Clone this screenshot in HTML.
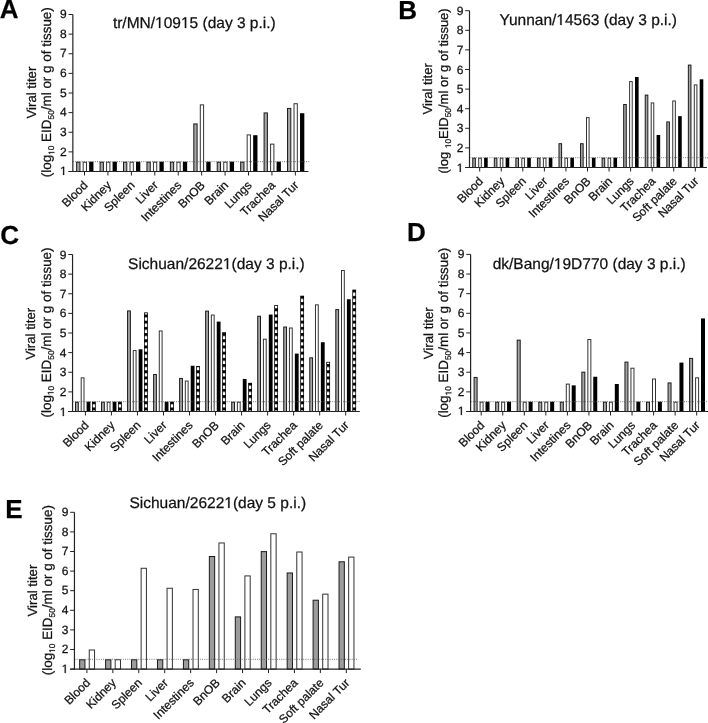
<!DOCTYPE html>
<html><head><meta charset="utf-8"><style>
html,body{margin:0;padding:0;background:#fff;}
svg{display:block;filter:grayscale(1);}
text{font-family:"Liberation Sans", sans-serif;text-rendering:geometricPrecision;stroke:#111;stroke-width:0.25px;}
.h{fill:none;stroke:none;}
</style></head><body>
<svg width="708" height="723" viewBox="0 0 708 723">
<rect width="708" height="723" fill="#fff"/>
<defs><pattern id="chk" patternUnits="userSpaceOnUse" width="8" height="6.2"><rect width="8" height="6.2" fill="#000"/><rect x="0" y="1.2" width="8" height="3.3" fill="#fff"/></pattern></defs>
<text x="-0.3" y="18.3" font-size="26" font-weight="bold" fill="#000">A</text>
<text x="194.3" y="28.0" font-size="15.5" text-anchor="middle" fill="#111">tr/MN/<tspan class="h">1</tspan>09<tspan class="h">1</tspan>5 (day 3 p.i.)</text>
<text transform="translate(36.2,92.6) rotate(-90)" font-size="13.2" text-anchor="middle" fill="#111">Viral titer</text>
<text transform="translate(51.4,92.25) rotate(-90)" font-size="13.45" text-anchor="middle" fill="#111">(log<tspan font-size="8.3" dy="3"><tspan class="h">1</tspan>0</tspan><tspan dy="-3"> EID</tspan><tspan font-size="8.3" dy="3">50</tspan><tspan dy="-3">/ml or g of tissue)</tspan></text>
<rect x="76.65" y="162.19" width="3.30" height="9.31" fill="#a6a6a6" stroke="#1a1a1a" stroke-width="1"/>
<rect x="83.15" y="162.19" width="3.30" height="9.31" fill="#fff" stroke="#333" stroke-width="1"/>
<rect x="89.15" y="161.69" width="4.30" height="9.81" fill="#000"/>
<line x1="84.50" y1="171.5" x2="84.50" y2="175.5" stroke="#222" stroke-width="1"/>
<text transform="translate(88.50,186.00) rotate(-45)" font-size="12" text-anchor="end" fill="#111">Blood</text>
<rect x="100.08" y="162.19" width="3.30" height="9.31" fill="#a6a6a6" stroke="#1a1a1a" stroke-width="1"/>
<rect x="106.58" y="162.19" width="3.30" height="9.31" fill="#fff" stroke="#333" stroke-width="1"/>
<rect x="112.58" y="161.69" width="4.30" height="9.81" fill="#000"/>
<line x1="107.93" y1="171.5" x2="107.93" y2="175.5" stroke="#222" stroke-width="1"/>
<text transform="translate(111.93,186.00) rotate(-45)" font-size="12" text-anchor="end" fill="#111">Kidney</text>
<rect x="123.51" y="162.19" width="3.30" height="9.31" fill="#a6a6a6" stroke="#1a1a1a" stroke-width="1"/>
<rect x="130.01" y="162.19" width="3.30" height="9.31" fill="#fff" stroke="#333" stroke-width="1"/>
<rect x="136.01" y="161.69" width="4.30" height="9.81" fill="#000"/>
<line x1="131.36" y1="171.5" x2="131.36" y2="175.5" stroke="#222" stroke-width="1"/>
<text transform="translate(135.36,186.00) rotate(-45)" font-size="12" text-anchor="end" fill="#111">Spleen</text>
<rect x="146.94" y="162.19" width="3.30" height="9.31" fill="#a6a6a6" stroke="#1a1a1a" stroke-width="1"/>
<rect x="153.44" y="162.19" width="3.30" height="9.31" fill="#fff" stroke="#333" stroke-width="1"/>
<rect x="159.44" y="161.69" width="4.30" height="9.81" fill="#000"/>
<line x1="154.79" y1="171.5" x2="154.79" y2="175.5" stroke="#222" stroke-width="1"/>
<text transform="translate(158.79,186.00) rotate(-45)" font-size="12" text-anchor="end" fill="#111">Liver</text>
<rect x="170.37" y="162.19" width="3.30" height="9.31" fill="#a6a6a6" stroke="#1a1a1a" stroke-width="1"/>
<rect x="176.87" y="162.19" width="3.30" height="9.31" fill="#fff" stroke="#333" stroke-width="1"/>
<rect x="182.87" y="161.69" width="4.30" height="9.81" fill="#000"/>
<line x1="178.22" y1="171.5" x2="178.22" y2="175.5" stroke="#222" stroke-width="1"/>
<text transform="translate(182.22,186.00) rotate(-45)" font-size="12" text-anchor="end" fill="#111">Intestines</text>
<rect x="193.80" y="123.92" width="3.30" height="47.58" fill="#a6a6a6" stroke="#1a1a1a" stroke-width="1"/>
<rect x="200.30" y="104.88" width="3.30" height="66.62" fill="#fff" stroke="#333" stroke-width="1"/>
<rect x="206.30" y="161.69" width="4.30" height="9.81" fill="#000"/>
<line x1="201.65" y1="171.5" x2="201.65" y2="175.5" stroke="#222" stroke-width="1"/>
<text transform="translate(205.65,186.00) rotate(-45)" font-size="12" text-anchor="end" fill="#111">BnOB</text>
<rect x="217.23" y="162.19" width="3.30" height="9.31" fill="#a6a6a6" stroke="#1a1a1a" stroke-width="1"/>
<rect x="223.73" y="162.19" width="3.30" height="9.31" fill="#fff" stroke="#333" stroke-width="1"/>
<rect x="229.73" y="161.69" width="4.30" height="9.81" fill="#000"/>
<line x1="225.08" y1="171.5" x2="225.08" y2="175.5" stroke="#222" stroke-width="1"/>
<text transform="translate(229.08,186.00) rotate(-45)" font-size="12" text-anchor="end" fill="#111">Brain</text>
<rect x="240.66" y="162.19" width="3.30" height="9.31" fill="#a6a6a6" stroke="#1a1a1a" stroke-width="1"/>
<rect x="247.16" y="134.91" width="3.30" height="36.59" fill="#fff" stroke="#333" stroke-width="1"/>
<rect x="253.16" y="135.19" width="4.30" height="36.31" fill="#000"/>
<line x1="248.51" y1="171.5" x2="248.51" y2="175.5" stroke="#222" stroke-width="1"/>
<text transform="translate(252.51,186.00) rotate(-45)" font-size="12" text-anchor="end" fill="#111">Lungs</text>
<rect x="264.09" y="112.93" width="3.30" height="58.57" fill="#a6a6a6" stroke="#1a1a1a" stroke-width="1"/>
<rect x="270.59" y="144.13" width="3.30" height="27.37" fill="#fff" stroke="#333" stroke-width="1"/>
<rect x="276.59" y="161.69" width="4.30" height="9.81" fill="#000"/>
<line x1="271.94" y1="171.5" x2="271.94" y2="175.5" stroke="#222" stroke-width="1"/>
<text transform="translate(275.94,186.00) rotate(-45)" font-size="12" text-anchor="end" fill="#111">Trachea</text>
<rect x="287.52" y="108.41" width="3.30" height="63.09" fill="#a6a6a6" stroke="#1a1a1a" stroke-width="1"/>
<rect x="294.02" y="103.70" width="3.30" height="67.80" fill="#fff" stroke="#333" stroke-width="1"/>
<rect x="300.02" y="113.21" width="4.30" height="58.29" fill="#000"/>
<line x1="295.37" y1="171.5" x2="295.37" y2="175.5" stroke="#222" stroke-width="1"/>
<text transform="translate(299.37,186.00) rotate(-45)" font-size="12" text-anchor="end" fill="#111">Nasal Tur</text>
<line x1="72.85" y1="161.69" x2="309.8" y2="161.69" stroke="#555" stroke-width="0.8" stroke-dasharray="1,1.2"/>
<line x1="72.85" y1="14.5" x2="72.85" y2="172.0" stroke="#222" stroke-width="1.2"/>
<line x1="68.55" y1="171.5" x2="308.4" y2="171.5" stroke="#222" stroke-width="1.1"/>
<line x1="68.55" y1="171.50" x2="72.85" y2="171.50" stroke="#222" stroke-width="1"/>
<text x="66.75" y="175.20" font-size="12" text-anchor="end" fill="#111"><tspan class="h">1</tspan></text>
<line x1="68.55" y1="151.88" x2="72.85" y2="151.88" stroke="#222" stroke-width="1"/>
<text x="66.75" y="155.57" font-size="12" text-anchor="end" fill="#111">2</text>
<line x1="68.55" y1="132.25" x2="72.85" y2="132.25" stroke="#222" stroke-width="1"/>
<text x="66.75" y="135.95" font-size="12" text-anchor="end" fill="#111">3</text>
<line x1="68.55" y1="112.62" x2="72.85" y2="112.62" stroke="#222" stroke-width="1"/>
<text x="66.75" y="116.33" font-size="12" text-anchor="end" fill="#111">4</text>
<line x1="68.55" y1="93.00" x2="72.85" y2="93.00" stroke="#222" stroke-width="1"/>
<text x="66.75" y="96.70" font-size="12" text-anchor="end" fill="#111">5</text>
<line x1="68.55" y1="73.38" x2="72.85" y2="73.38" stroke="#222" stroke-width="1"/>
<text x="66.75" y="77.08" font-size="12" text-anchor="end" fill="#111">6</text>
<line x1="68.55" y1="53.75" x2="72.85" y2="53.75" stroke="#222" stroke-width="1"/>
<text x="66.75" y="57.45" font-size="12" text-anchor="end" fill="#111">7</text>
<line x1="68.55" y1="34.12" x2="72.85" y2="34.12" stroke="#222" stroke-width="1"/>
<text x="66.75" y="37.83" font-size="12" text-anchor="end" fill="#111">8</text>
<line x1="68.55" y1="14.50" x2="72.85" y2="14.50" stroke="#222" stroke-width="1"/>
<text x="66.75" y="18.20" font-size="12" text-anchor="end" fill="#111">9</text>
<text x="398.2" y="19.4" font-size="26" font-weight="bold" fill="#000">B</text>
<text x="588.2" y="25.3" font-size="15.5" text-anchor="middle" fill="#111">Yunnan/<tspan class="h">1</tspan>4563 (day 3 p.i.)</text>
<text transform="translate(432.2,88.85) rotate(-90)" font-size="13.05" text-anchor="middle" fill="#111">Viral titer</text>
<text transform="translate(448.0,90.9) rotate(-90)" font-size="13.0" text-anchor="middle" fill="#111">(log <tspan font-size="8.3" dy="3"><tspan class="h">1</tspan>0</tspan><tspan dy="-3">EID</tspan><tspan font-size="8.3" dy="3">50</tspan><tspan dy="-3">/ml or g of tissue)</tspan></text>
<rect x="472.75" y="158.20" width="2.60" height="9.30" fill="#a6a6a6" stroke="#1a1a1a" stroke-width="1"/>
<rect x="478.70" y="158.20" width="2.60" height="9.30" fill="#fff" stroke="#333" stroke-width="1"/>
<rect x="484.10" y="157.70" width="3.60" height="9.80" fill="#000"/>
<line x1="479.70" y1="167.5" x2="479.70" y2="171.5" stroke="#222" stroke-width="1"/>
<text transform="translate(483.70,182.00) rotate(-45)" font-size="12" text-anchor="end" fill="#111">Blood</text>
<rect x="494.31" y="158.20" width="2.60" height="9.30" fill="#a6a6a6" stroke="#1a1a1a" stroke-width="1"/>
<rect x="500.26" y="158.20" width="2.60" height="9.30" fill="#fff" stroke="#333" stroke-width="1"/>
<rect x="505.66" y="157.70" width="3.60" height="9.80" fill="#000"/>
<line x1="501.26" y1="167.5" x2="501.26" y2="171.5" stroke="#222" stroke-width="1"/>
<text transform="translate(505.26,182.00) rotate(-45)" font-size="12" text-anchor="end" fill="#111">Kidney</text>
<rect x="515.87" y="158.20" width="2.60" height="9.30" fill="#a6a6a6" stroke="#1a1a1a" stroke-width="1"/>
<rect x="521.82" y="158.20" width="2.60" height="9.30" fill="#fff" stroke="#333" stroke-width="1"/>
<rect x="527.22" y="157.70" width="3.60" height="9.80" fill="#000"/>
<line x1="522.82" y1="167.5" x2="522.82" y2="171.5" stroke="#222" stroke-width="1"/>
<text transform="translate(526.82,182.00) rotate(-45)" font-size="12" text-anchor="end" fill="#111">Spleen</text>
<rect x="537.43" y="158.20" width="2.60" height="9.30" fill="#a6a6a6" stroke="#1a1a1a" stroke-width="1"/>
<rect x="543.38" y="158.20" width="2.60" height="9.30" fill="#fff" stroke="#333" stroke-width="1"/>
<rect x="548.78" y="157.70" width="3.60" height="9.80" fill="#000"/>
<line x1="544.38" y1="167.5" x2="544.38" y2="171.5" stroke="#222" stroke-width="1"/>
<text transform="translate(548.38,182.00) rotate(-45)" font-size="12" text-anchor="end" fill="#111">Liver</text>
<rect x="558.99" y="143.70" width="2.60" height="23.80" fill="#a6a6a6" stroke="#1a1a1a" stroke-width="1"/>
<rect x="564.94" y="158.20" width="2.60" height="9.30" fill="#fff" stroke="#333" stroke-width="1"/>
<rect x="570.34" y="157.70" width="3.60" height="9.80" fill="#000"/>
<line x1="565.94" y1="167.5" x2="565.94" y2="171.5" stroke="#222" stroke-width="1"/>
<text transform="translate(569.94,182.00) rotate(-45)" font-size="12" text-anchor="end" fill="#111">Intestines</text>
<rect x="580.55" y="143.70" width="2.60" height="23.80" fill="#a6a6a6" stroke="#1a1a1a" stroke-width="1"/>
<rect x="586.50" y="117.63" width="2.60" height="49.87" fill="#fff" stroke="#333" stroke-width="1"/>
<rect x="591.90" y="157.70" width="3.60" height="9.80" fill="#000"/>
<line x1="587.50" y1="167.5" x2="587.50" y2="171.5" stroke="#222" stroke-width="1"/>
<text transform="translate(591.50,182.00) rotate(-45)" font-size="12" text-anchor="end" fill="#111">BnOB</text>
<rect x="602.11" y="158.20" width="2.60" height="9.30" fill="#a6a6a6" stroke="#1a1a1a" stroke-width="1"/>
<rect x="608.06" y="158.20" width="2.60" height="9.30" fill="#fff" stroke="#333" stroke-width="1"/>
<rect x="613.46" y="157.70" width="3.60" height="9.80" fill="#000"/>
<line x1="609.06" y1="167.5" x2="609.06" y2="171.5" stroke="#222" stroke-width="1"/>
<text transform="translate(613.06,182.00) rotate(-45)" font-size="12" text-anchor="end" fill="#111">Brain</text>
<rect x="623.67" y="104.50" width="2.60" height="63.00" fill="#a6a6a6" stroke="#1a1a1a" stroke-width="1"/>
<rect x="629.62" y="81.56" width="2.60" height="85.94" fill="#fff" stroke="#333" stroke-width="1"/>
<rect x="635.02" y="76.95" width="3.60" height="90.55" fill="#000"/>
<line x1="630.62" y1="167.5" x2="630.62" y2="171.5" stroke="#222" stroke-width="1"/>
<text transform="translate(634.62,182.00) rotate(-45)" font-size="12" text-anchor="end" fill="#111">Lungs</text>
<rect x="645.23" y="95.09" width="2.60" height="72.41" fill="#a6a6a6" stroke="#1a1a1a" stroke-width="1"/>
<rect x="651.18" y="102.93" width="2.60" height="64.57" fill="#fff" stroke="#333" stroke-width="1"/>
<rect x="656.58" y="134.96" width="3.60" height="32.54" fill="#000"/>
<line x1="652.18" y1="167.5" x2="652.18" y2="171.5" stroke="#222" stroke-width="1"/>
<text transform="translate(656.18,182.00) rotate(-45)" font-size="12" text-anchor="end" fill="#111">Trachea</text>
<rect x="666.79" y="121.94" width="2.60" height="45.56" fill="#a6a6a6" stroke="#1a1a1a" stroke-width="1"/>
<rect x="672.74" y="100.97" width="2.60" height="66.53" fill="#fff" stroke="#333" stroke-width="1"/>
<rect x="678.14" y="116.15" width="3.60" height="51.35" fill="#000"/>
<line x1="673.74" y1="167.5" x2="673.74" y2="171.5" stroke="#222" stroke-width="1"/>
<text transform="translate(677.74,182.00) rotate(-45)" font-size="12" text-anchor="end" fill="#111">Soft palate</text>
<rect x="688.35" y="65.10" width="2.60" height="102.40" fill="#a6a6a6" stroke="#1a1a1a" stroke-width="1"/>
<rect x="694.30" y="84.90" width="2.60" height="82.60" fill="#fff" stroke="#333" stroke-width="1"/>
<rect x="699.70" y="79.30" width="3.60" height="88.20" fill="#000"/>
<line x1="695.30" y1="167.5" x2="695.30" y2="171.5" stroke="#222" stroke-width="1"/>
<text transform="translate(699.30,182.00) rotate(-45)" font-size="12" text-anchor="end" fill="#111">Nasal Tur</text>
<line x1="469.5" y1="157.70" x2="708" y2="157.70" stroke="#555" stroke-width="0.8" stroke-dasharray="1,1.2"/>
<line x1="469.5" y1="10.7" x2="469.5" y2="168.0" stroke="#222" stroke-width="1.2"/>
<line x1="465.2" y1="167.5" x2="706.9" y2="167.5" stroke="#222" stroke-width="1.1"/>
<line x1="465.2" y1="167.50" x2="469.5" y2="167.50" stroke="#222" stroke-width="1"/>
<text x="463.40" y="171.60" font-size="12" text-anchor="end" fill="#111"><tspan class="h">1</tspan></text>
<line x1="465.2" y1="147.90" x2="469.5" y2="147.90" stroke="#222" stroke-width="1"/>
<text x="463.40" y="152.00" font-size="12" text-anchor="end" fill="#111">2</text>
<line x1="465.2" y1="128.30" x2="469.5" y2="128.30" stroke="#222" stroke-width="1"/>
<text x="463.40" y="132.40" font-size="12" text-anchor="end" fill="#111">3</text>
<line x1="465.2" y1="108.70" x2="469.5" y2="108.70" stroke="#222" stroke-width="1"/>
<text x="463.40" y="112.80" font-size="12" text-anchor="end" fill="#111">4</text>
<line x1="465.2" y1="89.10" x2="469.5" y2="89.10" stroke="#222" stroke-width="1"/>
<text x="463.40" y="93.20" font-size="12" text-anchor="end" fill="#111">5</text>
<line x1="465.2" y1="69.50" x2="469.5" y2="69.50" stroke="#222" stroke-width="1"/>
<text x="463.40" y="73.60" font-size="12" text-anchor="end" fill="#111">6</text>
<line x1="465.2" y1="49.90" x2="469.5" y2="49.90" stroke="#222" stroke-width="1"/>
<text x="463.40" y="54.00" font-size="12" text-anchor="end" fill="#111">7</text>
<line x1="465.2" y1="30.30" x2="469.5" y2="30.30" stroke="#222" stroke-width="1"/>
<text x="463.40" y="34.40" font-size="12" text-anchor="end" fill="#111">8</text>
<line x1="465.2" y1="10.70" x2="469.5" y2="10.70" stroke="#222" stroke-width="1"/>
<text x="463.40" y="14.80" font-size="12" text-anchor="end" fill="#111">9</text>
<text x="0.3" y="243.9" font-size="26" font-weight="bold" fill="#000">C</text>
<text x="216.4" y="268.9" font-size="15.5" text-anchor="middle" fill="#111">Sichuan/2622<tspan class="h">1</tspan>(day 3 p.i.)</text>
<text transform="translate(35.0,333.75) rotate(-90)" font-size="13.2" text-anchor="middle" fill="#111">Viral titer</text>
<text transform="translate(50.5,332.5) rotate(-90)" font-size="13.45" text-anchor="middle" fill="#111">(log<tspan font-size="8.3" dy="3"><tspan class="h">1</tspan>0</tspan><tspan dy="-3"> EID</tspan><tspan font-size="8.3" dy="3">50</tspan><tspan dy="-3">/ml or g of tissue)</tspan></text>
<rect x="75.50" y="402.19" width="2.80" height="9.31" fill="#a6a6a6" stroke="#1a1a1a" stroke-width="1"/>
<rect x="81.20" y="377.85" width="2.80" height="33.65" fill="#fff" stroke="#333" stroke-width="1"/>
<rect x="86.60" y="401.69" width="3.80" height="9.81" fill="#000"/>
<rect x="92.00" y="401.69" width="3.80" height="9.81" fill="#000"/>
<rect x="92.75" y="402.49" width="2.30" height="9.01" fill="url(#chk)"/>
<line x1="85.40" y1="411.5" x2="85.40" y2="415.5" stroke="#222" stroke-width="1"/>
<text transform="translate(89.40,426.00) rotate(-45)" font-size="12" text-anchor="end" fill="#111">Blood</text>
<rect x="101.53" y="402.19" width="2.80" height="9.31" fill="#a6a6a6" stroke="#1a1a1a" stroke-width="1"/>
<rect x="107.23" y="402.19" width="2.80" height="9.31" fill="#fff" stroke="#333" stroke-width="1"/>
<rect x="112.63" y="401.69" width="3.80" height="9.81" fill="#000"/>
<rect x="118.03" y="401.69" width="3.80" height="9.81" fill="#000"/>
<rect x="118.78" y="402.49" width="2.30" height="9.01" fill="url(#chk)"/>
<line x1="111.43" y1="411.5" x2="111.43" y2="415.5" stroke="#222" stroke-width="1"/>
<text transform="translate(115.43,426.00) rotate(-45)" font-size="12" text-anchor="end" fill="#111">Kidney</text>
<rect x="127.56" y="310.93" width="2.80" height="100.57" fill="#a6a6a6" stroke="#1a1a1a" stroke-width="1"/>
<rect x="133.26" y="350.57" width="2.80" height="60.93" fill="#fff" stroke="#333" stroke-width="1"/>
<rect x="138.66" y="349.29" width="3.80" height="62.21" fill="#000"/>
<rect x="144.06" y="312.39" width="3.80" height="99.11" fill="#000"/>
<rect x="144.81" y="313.19" width="2.30" height="98.31" fill="url(#chk)"/>
<line x1="137.46" y1="411.5" x2="137.46" y2="415.5" stroke="#222" stroke-width="1"/>
<text transform="translate(141.46,426.00) rotate(-45)" font-size="12" text-anchor="end" fill="#111">Spleen</text>
<rect x="153.59" y="374.52" width="2.80" height="36.98" fill="#a6a6a6" stroke="#1a1a1a" stroke-width="1"/>
<rect x="159.29" y="330.95" width="2.80" height="80.55" fill="#fff" stroke="#333" stroke-width="1"/>
<rect x="164.69" y="401.69" width="3.80" height="9.81" fill="#000"/>
<rect x="170.09" y="401.69" width="3.80" height="9.81" fill="#000"/>
<rect x="170.84" y="402.49" width="2.30" height="9.01" fill="url(#chk)"/>
<line x1="163.49" y1="411.5" x2="163.49" y2="415.5" stroke="#222" stroke-width="1"/>
<text transform="translate(167.49,426.00) rotate(-45)" font-size="12" text-anchor="end" fill="#111">Liver</text>
<rect x="179.62" y="378.44" width="2.80" height="33.06" fill="#a6a6a6" stroke="#1a1a1a" stroke-width="1"/>
<rect x="185.32" y="380.99" width="2.80" height="30.51" fill="#fff" stroke="#333" stroke-width="1"/>
<rect x="190.72" y="365.77" width="3.80" height="45.73" fill="#000"/>
<rect x="196.12" y="365.97" width="3.80" height="45.53" fill="#000"/>
<rect x="196.87" y="366.77" width="2.30" height="44.73" fill="url(#chk)"/>
<line x1="189.52" y1="411.5" x2="189.52" y2="415.5" stroke="#222" stroke-width="1"/>
<text transform="translate(193.52,426.00) rotate(-45)" font-size="12" text-anchor="end" fill="#111">Intestines</text>
<rect x="205.65" y="311.13" width="2.80" height="100.37" fill="#a6a6a6" stroke="#1a1a1a" stroke-width="1"/>
<rect x="211.35" y="315.05" width="2.80" height="96.45" fill="#fff" stroke="#333" stroke-width="1"/>
<rect x="216.75" y="321.62" width="3.80" height="89.88" fill="#000"/>
<rect x="222.15" y="332.22" width="3.80" height="79.28" fill="#000"/>
<rect x="222.90" y="333.02" width="2.30" height="78.48" fill="url(#chk)"/>
<line x1="215.55" y1="411.5" x2="215.55" y2="415.5" stroke="#222" stroke-width="1"/>
<text transform="translate(219.55,426.00) rotate(-45)" font-size="12" text-anchor="end" fill="#111">BnOB</text>
<rect x="231.68" y="402.19" width="2.80" height="9.31" fill="#a6a6a6" stroke="#1a1a1a" stroke-width="1"/>
<rect x="237.38" y="402.19" width="2.80" height="9.31" fill="#fff" stroke="#333" stroke-width="1"/>
<rect x="242.78" y="378.92" width="3.80" height="32.58" fill="#000"/>
<rect x="248.18" y="382.85" width="3.80" height="28.65" fill="#000"/>
<rect x="248.93" y="383.65" width="2.30" height="27.85" fill="url(#chk)"/>
<line x1="241.58" y1="411.5" x2="241.58" y2="415.5" stroke="#222" stroke-width="1"/>
<text transform="translate(245.58,426.00) rotate(-45)" font-size="12" text-anchor="end" fill="#111">Brain</text>
<rect x="257.71" y="316.23" width="2.80" height="95.27" fill="#a6a6a6" stroke="#1a1a1a" stroke-width="1"/>
<rect x="263.41" y="339.19" width="2.80" height="72.31" fill="#fff" stroke="#333" stroke-width="1"/>
<rect x="268.81" y="314.55" width="3.80" height="96.95" fill="#000"/>
<rect x="274.21" y="305.13" width="3.80" height="106.37" fill="#000"/>
<rect x="274.96" y="305.93" width="2.30" height="105.57" fill="url(#chk)"/>
<line x1="267.61" y1="411.5" x2="267.61" y2="415.5" stroke="#222" stroke-width="1"/>
<text transform="translate(271.61,426.00) rotate(-45)" font-size="12" text-anchor="end" fill="#111">Lungs</text>
<rect x="283.74" y="327.02" width="2.80" height="84.48" fill="#a6a6a6" stroke="#1a1a1a" stroke-width="1"/>
<rect x="289.44" y="328.00" width="2.80" height="83.50" fill="#fff" stroke="#333" stroke-width="1"/>
<rect x="294.84" y="353.61" width="3.80" height="57.89" fill="#000"/>
<rect x="300.24" y="295.71" width="3.80" height="115.79" fill="#000"/>
<rect x="300.99" y="296.51" width="2.30" height="114.99" fill="url(#chk)"/>
<line x1="293.64" y1="411.5" x2="293.64" y2="415.5" stroke="#222" stroke-width="1"/>
<text transform="translate(297.64,426.00) rotate(-45)" font-size="12" text-anchor="end" fill="#111">Trachea</text>
<rect x="309.77" y="357.83" width="2.80" height="53.67" fill="#a6a6a6" stroke="#1a1a1a" stroke-width="1"/>
<rect x="315.47" y="304.85" width="2.80" height="106.65" fill="#fff" stroke="#333" stroke-width="1"/>
<rect x="320.87" y="342.22" width="3.80" height="69.28" fill="#000"/>
<rect x="326.27" y="361.85" width="3.80" height="49.65" fill="#000"/>
<rect x="327.02" y="362.65" width="2.30" height="48.85" fill="url(#chk)"/>
<line x1="319.67" y1="411.5" x2="319.67" y2="415.5" stroke="#222" stroke-width="1"/>
<text transform="translate(323.67,426.00) rotate(-45)" font-size="12" text-anchor="end" fill="#111">Soft palate</text>
<rect x="335.80" y="309.56" width="2.80" height="101.94" fill="#a6a6a6" stroke="#1a1a1a" stroke-width="1"/>
<rect x="341.50" y="270.50" width="2.80" height="141.00" fill="#fff" stroke="#333" stroke-width="1"/>
<rect x="346.90" y="299.25" width="3.80" height="112.25" fill="#000"/>
<rect x="352.30" y="289.63" width="3.80" height="121.87" fill="#000"/>
<rect x="353.05" y="290.43" width="2.30" height="121.07" fill="url(#chk)"/>
<line x1="345.70" y1="411.5" x2="345.70" y2="415.5" stroke="#222" stroke-width="1"/>
<text transform="translate(349.70,426.00) rotate(-45)" font-size="12" text-anchor="end" fill="#111">Nasal Tur</text>
<line x1="72.55" y1="401.69" x2="359.8" y2="401.69" stroke="#555" stroke-width="0.8" stroke-dasharray="1,1.2"/>
<line x1="72.55" y1="254.5" x2="72.55" y2="412.0" stroke="#222" stroke-width="1.2"/>
<line x1="68.25" y1="411.5" x2="359.8" y2="411.5" stroke="#222" stroke-width="1.1"/>
<line x1="68.25" y1="411.50" x2="72.55" y2="411.50" stroke="#222" stroke-width="1"/>
<text x="66.45" y="415.50" font-size="12" text-anchor="end" fill="#111"><tspan class="h">1</tspan></text>
<line x1="68.25" y1="391.88" x2="72.55" y2="391.88" stroke="#222" stroke-width="1"/>
<text x="66.45" y="395.88" font-size="12" text-anchor="end" fill="#111">2</text>
<line x1="68.25" y1="372.25" x2="72.55" y2="372.25" stroke="#222" stroke-width="1"/>
<text x="66.45" y="376.25" font-size="12" text-anchor="end" fill="#111">3</text>
<line x1="68.25" y1="352.62" x2="72.55" y2="352.62" stroke="#222" stroke-width="1"/>
<text x="66.45" y="356.62" font-size="12" text-anchor="end" fill="#111">4</text>
<line x1="68.25" y1="333.00" x2="72.55" y2="333.00" stroke="#222" stroke-width="1"/>
<text x="66.45" y="337.00" font-size="12" text-anchor="end" fill="#111">5</text>
<line x1="68.25" y1="313.38" x2="72.55" y2="313.38" stroke="#222" stroke-width="1"/>
<text x="66.45" y="317.38" font-size="12" text-anchor="end" fill="#111">6</text>
<line x1="68.25" y1="293.75" x2="72.55" y2="293.75" stroke="#222" stroke-width="1"/>
<text x="66.45" y="297.75" font-size="12" text-anchor="end" fill="#111">7</text>
<line x1="68.25" y1="274.12" x2="72.55" y2="274.12" stroke="#222" stroke-width="1"/>
<text x="66.45" y="278.12" font-size="12" text-anchor="end" fill="#111">8</text>
<line x1="68.25" y1="254.50" x2="72.55" y2="254.50" stroke="#222" stroke-width="1"/>
<text x="66.45" y="258.50" font-size="12" text-anchor="end" fill="#111">9</text>
<text x="407.0" y="241.4" font-size="26" font-weight="bold" fill="#000">D</text>
<text x="589.2" y="268.9" font-size="15.5" text-anchor="middle" fill="#111">dk/Bang/<tspan class="h">1</tspan>9D770 (day 3 p.i.)</text>
<text transform="translate(432.9,333.25) rotate(-90)" font-size="13.2" text-anchor="middle" fill="#111">Viral titer</text>
<text transform="translate(448.4,332.8) rotate(-90)" font-size="13.45" text-anchor="middle" fill="#111">(log<tspan font-size="8.3" dy="3"><tspan class="h">1</tspan>0</tspan><tspan dy="-3"> EID</tspan><tspan font-size="8.3" dy="3">50</tspan><tspan dy="-3">/ml or g of tissue)</tspan></text>
<rect x="474.10" y="377.44" width="3.00" height="34.06" fill="#a6a6a6" stroke="#1a1a1a" stroke-width="1"/>
<rect x="480.10" y="402.18" width="3.00" height="9.32" fill="#fff" stroke="#333" stroke-width="1"/>
<rect x="485.50" y="401.68" width="4.00" height="9.82" fill="#000"/>
<line x1="481.20" y1="411.5" x2="481.20" y2="415.5" stroke="#222" stroke-width="1"/>
<text transform="translate(485.20,426.00) rotate(-45)" font-size="12" text-anchor="end" fill="#111">Blood</text>
<rect x="495.65" y="402.18" width="3.00" height="9.32" fill="#a6a6a6" stroke="#1a1a1a" stroke-width="1"/>
<rect x="501.65" y="402.18" width="3.00" height="9.32" fill="#fff" stroke="#333" stroke-width="1"/>
<rect x="507.05" y="401.68" width="4.00" height="9.82" fill="#000"/>
<line x1="502.75" y1="411.5" x2="502.75" y2="415.5" stroke="#222" stroke-width="1"/>
<text transform="translate(506.75,426.00) rotate(-45)" font-size="12" text-anchor="end" fill="#111">Kidney</text>
<rect x="517.20" y="340.13" width="3.00" height="71.37" fill="#a6a6a6" stroke="#1a1a1a" stroke-width="1"/>
<rect x="523.20" y="402.18" width="3.00" height="9.32" fill="#fff" stroke="#333" stroke-width="1"/>
<rect x="528.60" y="401.68" width="4.00" height="9.82" fill="#000"/>
<line x1="524.30" y1="411.5" x2="524.30" y2="415.5" stroke="#222" stroke-width="1"/>
<text transform="translate(528.30,426.00) rotate(-45)" font-size="12" text-anchor="end" fill="#111">Spleen</text>
<rect x="538.75" y="402.18" width="3.00" height="9.32" fill="#a6a6a6" stroke="#1a1a1a" stroke-width="1"/>
<rect x="544.75" y="402.18" width="3.00" height="9.32" fill="#fff" stroke="#333" stroke-width="1"/>
<rect x="550.15" y="401.68" width="4.00" height="9.82" fill="#000"/>
<line x1="545.85" y1="411.5" x2="545.85" y2="415.5" stroke="#222" stroke-width="1"/>
<text transform="translate(549.85,426.00) rotate(-45)" font-size="12" text-anchor="end" fill="#111">Liver</text>
<rect x="560.30" y="402.18" width="3.00" height="9.32" fill="#a6a6a6" stroke="#1a1a1a" stroke-width="1"/>
<rect x="566.30" y="384.11" width="3.00" height="27.39" fill="#fff" stroke="#333" stroke-width="1"/>
<rect x="571.70" y="385.38" width="4.00" height="26.12" fill="#000"/>
<line x1="567.40" y1="411.5" x2="567.40" y2="415.5" stroke="#222" stroke-width="1"/>
<text transform="translate(571.40,426.00) rotate(-45)" font-size="12" text-anchor="end" fill="#111">Intestines</text>
<rect x="581.85" y="372.14" width="3.00" height="39.36" fill="#a6a6a6" stroke="#1a1a1a" stroke-width="1"/>
<rect x="587.85" y="339.54" width="3.00" height="71.96" fill="#fff" stroke="#333" stroke-width="1"/>
<rect x="593.25" y="376.74" width="4.00" height="34.76" fill="#000"/>
<line x1="588.95" y1="411.5" x2="588.95" y2="415.5" stroke="#222" stroke-width="1"/>
<text transform="translate(592.95,426.00) rotate(-45)" font-size="12" text-anchor="end" fill="#111">BnOB</text>
<rect x="603.40" y="402.18" width="3.00" height="9.32" fill="#a6a6a6" stroke="#1a1a1a" stroke-width="1"/>
<rect x="609.40" y="402.18" width="3.00" height="9.32" fill="#fff" stroke="#333" stroke-width="1"/>
<rect x="614.80" y="384.01" width="4.00" height="27.49" fill="#000"/>
<line x1="610.50" y1="411.5" x2="610.50" y2="415.5" stroke="#222" stroke-width="1"/>
<text transform="translate(614.50,426.00) rotate(-45)" font-size="12" text-anchor="end" fill="#111">Brain</text>
<rect x="624.95" y="362.12" width="3.00" height="49.38" fill="#a6a6a6" stroke="#1a1a1a" stroke-width="1"/>
<rect x="630.95" y="368.21" width="3.00" height="43.29" fill="#fff" stroke="#333" stroke-width="1"/>
<rect x="636.35" y="401.68" width="4.00" height="9.82" fill="#000"/>
<line x1="632.05" y1="411.5" x2="632.05" y2="415.5" stroke="#222" stroke-width="1"/>
<text transform="translate(636.05,426.00) rotate(-45)" font-size="12" text-anchor="end" fill="#111">Lungs</text>
<rect x="646.50" y="402.18" width="3.00" height="9.32" fill="#a6a6a6" stroke="#1a1a1a" stroke-width="1"/>
<rect x="652.50" y="379.01" width="3.00" height="32.49" fill="#fff" stroke="#333" stroke-width="1"/>
<rect x="657.90" y="401.68" width="4.00" height="9.82" fill="#000"/>
<line x1="653.60" y1="411.5" x2="653.60" y2="415.5" stroke="#222" stroke-width="1"/>
<text transform="translate(657.60,426.00) rotate(-45)" font-size="12" text-anchor="end" fill="#111">Trachea</text>
<rect x="668.05" y="382.94" width="3.00" height="28.56" fill="#a6a6a6" stroke="#1a1a1a" stroke-width="1"/>
<rect x="674.05" y="402.18" width="3.00" height="9.32" fill="#fff" stroke="#333" stroke-width="1"/>
<rect x="679.45" y="362.60" width="4.00" height="48.90" fill="#000"/>
<line x1="675.15" y1="411.5" x2="675.15" y2="415.5" stroke="#222" stroke-width="1"/>
<text transform="translate(679.15,426.00) rotate(-45)" font-size="12" text-anchor="end" fill="#111">Soft palate</text>
<rect x="689.60" y="358.39" width="3.00" height="53.11" fill="#a6a6a6" stroke="#1a1a1a" stroke-width="1"/>
<rect x="695.60" y="377.83" width="3.00" height="33.67" fill="#fff" stroke="#333" stroke-width="1"/>
<rect x="701.00" y="318.42" width="4.00" height="93.08" fill="#000"/>
<line x1="696.70" y1="411.5" x2="696.70" y2="415.5" stroke="#222" stroke-width="1"/>
<text transform="translate(700.70,426.00) rotate(-45)" font-size="12" text-anchor="end" fill="#111">Nasal Tur</text>
<line x1="470.6" y1="401.68" x2="708" y2="401.68" stroke="#555" stroke-width="0.8" stroke-dasharray="1,1.2"/>
<line x1="470.6" y1="254.4" x2="470.6" y2="412.0" stroke="#222" stroke-width="1.2"/>
<line x1="466.3" y1="411.5" x2="708" y2="411.5" stroke="#222" stroke-width="1.1"/>
<line x1="466.3" y1="411.50" x2="470.6" y2="411.50" stroke="#222" stroke-width="1"/>
<text x="464.50" y="415.20" font-size="12" text-anchor="end" fill="#111"><tspan class="h">1</tspan></text>
<line x1="466.3" y1="391.86" x2="470.6" y2="391.86" stroke="#222" stroke-width="1"/>
<text x="464.50" y="395.56" font-size="12" text-anchor="end" fill="#111">2</text>
<line x1="466.3" y1="372.23" x2="470.6" y2="372.23" stroke="#222" stroke-width="1"/>
<text x="464.50" y="375.93" font-size="12" text-anchor="end" fill="#111">3</text>
<line x1="466.3" y1="352.59" x2="470.6" y2="352.59" stroke="#222" stroke-width="1"/>
<text x="464.50" y="356.29" font-size="12" text-anchor="end" fill="#111">4</text>
<line x1="466.3" y1="332.95" x2="470.6" y2="332.95" stroke="#222" stroke-width="1"/>
<text x="464.50" y="336.65" font-size="12" text-anchor="end" fill="#111">5</text>
<line x1="466.3" y1="313.31" x2="470.6" y2="313.31" stroke="#222" stroke-width="1"/>
<text x="464.50" y="317.01" font-size="12" text-anchor="end" fill="#111">6</text>
<line x1="466.3" y1="293.68" x2="470.6" y2="293.68" stroke="#222" stroke-width="1"/>
<text x="464.50" y="297.38" font-size="12" text-anchor="end" fill="#111">7</text>
<line x1="466.3" y1="274.04" x2="470.6" y2="274.04" stroke="#222" stroke-width="1"/>
<text x="464.50" y="277.74" font-size="12" text-anchor="end" fill="#111">8</text>
<line x1="466.3" y1="254.40" x2="470.6" y2="254.40" stroke="#222" stroke-width="1"/>
<text x="464.50" y="258.10" font-size="12" text-anchor="end" fill="#111">9</text>
<text x="5.2" y="518.1" font-size="26" font-weight="bold" fill="#000">E</text>
<text x="217.8" y="508.4" font-size="15.5" text-anchor="middle" fill="#111">Sichuan/2622<tspan class="h">1</tspan>(day 5 p.i.)</text>
<text transform="translate(37.2,590.6) rotate(-90)" font-size="13.2" text-anchor="middle" fill="#111">Viral titer</text>
<text transform="translate(52.0,590.2) rotate(-90)" font-size="13.45" text-anchor="middle" fill="#111">(log<tspan font-size="8.3" dy="3"><tspan class="h">1</tspan>0</tspan><tspan dy="-3"> EID</tspan><tspan font-size="8.3" dy="3">50</tspan><tspan dy="-3">/ml or g of tissue)</tspan></text>
<rect x="79.65" y="659.80" width="5.30" height="9.30" fill="#9c9c9c" stroke="#1a1a1a" stroke-width="1"/>
<rect x="89.25" y="650.00" width="5.30" height="19.10" fill="#fff" stroke="#333" stroke-width="1"/>
<line x1="86.90" y1="669.1" x2="86.90" y2="673.1" stroke="#222" stroke-width="1"/>
<text transform="translate(90.90,683.60) rotate(-45)" font-size="12" text-anchor="end" fill="#111">Blood</text>
<rect x="105.59" y="659.80" width="5.30" height="9.30" fill="#9c9c9c" stroke="#1a1a1a" stroke-width="1"/>
<rect x="115.19" y="659.80" width="5.30" height="9.30" fill="#fff" stroke="#333" stroke-width="1"/>
<line x1="112.84" y1="669.1" x2="112.84" y2="673.1" stroke="#222" stroke-width="1"/>
<text transform="translate(116.84,683.60) rotate(-45)" font-size="12" text-anchor="end" fill="#111">Kidney</text>
<rect x="131.53" y="659.80" width="5.30" height="9.30" fill="#9c9c9c" stroke="#1a1a1a" stroke-width="1"/>
<rect x="141.13" y="568.27" width="5.30" height="100.83" fill="#fff" stroke="#333" stroke-width="1"/>
<line x1="138.78" y1="669.1" x2="138.78" y2="673.1" stroke="#222" stroke-width="1"/>
<text transform="translate(142.78,683.60) rotate(-45)" font-size="12" text-anchor="end" fill="#111">Spleen</text>
<rect x="157.47" y="659.80" width="5.30" height="9.30" fill="#9c9c9c" stroke="#1a1a1a" stroke-width="1"/>
<rect x="167.07" y="588.26" width="5.30" height="80.84" fill="#fff" stroke="#333" stroke-width="1"/>
<line x1="164.72" y1="669.1" x2="164.72" y2="673.1" stroke="#222" stroke-width="1"/>
<text transform="translate(168.72,683.60) rotate(-45)" font-size="12" text-anchor="end" fill="#111">Liver</text>
<rect x="183.41" y="659.80" width="5.30" height="9.30" fill="#9c9c9c" stroke="#1a1a1a" stroke-width="1"/>
<rect x="193.01" y="589.44" width="5.30" height="79.66" fill="#fff" stroke="#333" stroke-width="1"/>
<line x1="190.66" y1="669.1" x2="190.66" y2="673.1" stroke="#222" stroke-width="1"/>
<text transform="translate(194.66,683.60) rotate(-45)" font-size="12" text-anchor="end" fill="#111">Intestines</text>
<rect x="209.35" y="556.51" width="5.30" height="112.59" fill="#9c9c9c" stroke="#1a1a1a" stroke-width="1"/>
<rect x="218.95" y="542.98" width="5.30" height="126.12" fill="#fff" stroke="#333" stroke-width="1"/>
<line x1="216.60" y1="669.1" x2="216.60" y2="673.1" stroke="#222" stroke-width="1"/>
<text transform="translate(220.60,683.60) rotate(-45)" font-size="12" text-anchor="end" fill="#111">BnOB</text>
<rect x="235.29" y="616.88" width="5.30" height="52.22" fill="#9c9c9c" stroke="#1a1a1a" stroke-width="1"/>
<rect x="244.89" y="575.91" width="5.30" height="93.19" fill="#fff" stroke="#333" stroke-width="1"/>
<line x1="242.54" y1="669.1" x2="242.54" y2="673.1" stroke="#222" stroke-width="1"/>
<text transform="translate(246.54,683.60) rotate(-45)" font-size="12" text-anchor="end" fill="#111">Brain</text>
<rect x="261.23" y="551.61" width="5.30" height="117.49" fill="#9c9c9c" stroke="#1a1a1a" stroke-width="1"/>
<rect x="270.83" y="533.77" width="5.30" height="135.33" fill="#fff" stroke="#333" stroke-width="1"/>
<line x1="268.48" y1="669.1" x2="268.48" y2="673.1" stroke="#222" stroke-width="1"/>
<text transform="translate(272.48,683.60) rotate(-45)" font-size="12" text-anchor="end" fill="#111">Lungs</text>
<rect x="287.17" y="572.97" width="5.30" height="96.13" fill="#9c9c9c" stroke="#1a1a1a" stroke-width="1"/>
<rect x="296.77" y="552.00" width="5.30" height="117.10" fill="#fff" stroke="#333" stroke-width="1"/>
<line x1="294.42" y1="669.1" x2="294.42" y2="673.1" stroke="#222" stroke-width="1"/>
<text transform="translate(298.42,683.60) rotate(-45)" font-size="12" text-anchor="end" fill="#111">Trachea</text>
<rect x="313.11" y="600.22" width="5.30" height="68.88" fill="#9c9c9c" stroke="#1a1a1a" stroke-width="1"/>
<rect x="322.71" y="594.14" width="5.30" height="74.96" fill="#fff" stroke="#333" stroke-width="1"/>
<line x1="320.36" y1="669.1" x2="320.36" y2="673.1" stroke="#222" stroke-width="1"/>
<text transform="translate(324.36,683.60) rotate(-45)" font-size="12" text-anchor="end" fill="#111">Soft palate</text>
<rect x="339.05" y="561.80" width="5.30" height="107.30" fill="#9c9c9c" stroke="#1a1a1a" stroke-width="1"/>
<rect x="348.65" y="557.10" width="5.30" height="112.00" fill="#fff" stroke="#333" stroke-width="1"/>
<line x1="346.30" y1="669.1" x2="346.30" y2="673.1" stroke="#222" stroke-width="1"/>
<text transform="translate(350.30,683.60) rotate(-45)" font-size="12" text-anchor="end" fill="#111">Nasal Tur</text>
<line x1="74.45" y1="659.30" x2="357.8" y2="659.30" stroke="#555" stroke-width="0.8" stroke-dasharray="1,1.2"/>
<line x1="74.45" y1="512.3" x2="74.45" y2="669.6" stroke="#222" stroke-width="1.2"/>
<line x1="70.15" y1="669.1" x2="360.8" y2="669.1" stroke="#222" stroke-width="1.1"/>
<line x1="70.15" y1="669.10" x2="74.45" y2="669.10" stroke="#222" stroke-width="1"/>
<text x="68.35" y="672.80" font-size="12" text-anchor="end" fill="#111"><tspan class="h">1</tspan></text>
<line x1="70.15" y1="649.50" x2="74.45" y2="649.50" stroke="#222" stroke-width="1"/>
<text x="68.35" y="653.20" font-size="12" text-anchor="end" fill="#111">2</text>
<line x1="70.15" y1="629.90" x2="74.45" y2="629.90" stroke="#222" stroke-width="1"/>
<text x="68.35" y="633.60" font-size="12" text-anchor="end" fill="#111">3</text>
<line x1="70.15" y1="610.30" x2="74.45" y2="610.30" stroke="#222" stroke-width="1"/>
<text x="68.35" y="614.00" font-size="12" text-anchor="end" fill="#111">4</text>
<line x1="70.15" y1="590.70" x2="74.45" y2="590.70" stroke="#222" stroke-width="1"/>
<text x="68.35" y="594.40" font-size="12" text-anchor="end" fill="#111">5</text>
<line x1="70.15" y1="571.10" x2="74.45" y2="571.10" stroke="#222" stroke-width="1"/>
<text x="68.35" y="574.80" font-size="12" text-anchor="end" fill="#111">6</text>
<line x1="70.15" y1="551.50" x2="74.45" y2="551.50" stroke="#222" stroke-width="1"/>
<text x="68.35" y="555.20" font-size="12" text-anchor="end" fill="#111">7</text>
<line x1="70.15" y1="531.90" x2="74.45" y2="531.90" stroke="#222" stroke-width="1"/>
<text x="68.35" y="535.60" font-size="12" text-anchor="end" fill="#111">8</text>
<line x1="70.15" y1="512.30" x2="74.45" y2="512.30" stroke="#222" stroke-width="1"/>
<text x="68.35" y="516.00" font-size="12" text-anchor="end" fill="#111">9</text>
<path d="M158.963,28.000 L160.333,28.000 L160.333,17.336 L159.077,17.336 L156.557,19.069 L156.557,20.356 L158.963,18.638 Z" fill="#111" stroke="#111" stroke-width="0.25"/>
<path d="M184.838,28.000 L186.208,28.000 L186.208,17.336 L184.952,17.336 L182.432,19.069 L182.432,20.356 L184.838,18.638 Z" fill="#111" stroke="#111" stroke-width="0.25"/>
<path transform="translate(51.4,92.25) rotate(-90)" d="M-60.546,3.000 L-59.812,3.000 L-59.812,-2.710 L-60.485,-2.710 L-61.834,-1.782 L-61.834,-1.093 L-60.546,-2.013 Z" fill="#111" stroke="#111" stroke-width="0.25"/>
<path d="M63.080,175.000 L64.141,175.000 L64.141,166.744 L63.168,166.744 L61.217,168.086 L61.217,169.082 L63.080,167.752 Z" fill="#111" stroke="#111" stroke-width="0.25"/>
<path d="M560.231,25.000 L561.600,25.000 L561.600,14.336 L560.344,14.336 L557.824,16.069 L557.824,17.356 L560.231,15.638 Z" fill="#111" stroke="#111" stroke-width="0.25"/>
<path transform="translate(448.0,90.9) rotate(-90)" d="M-55.194,3.000 L-54.461,3.000 L-54.461,-2.710 L-55.133,-2.710 L-56.483,-1.782 L-56.483,-1.093 L-55.194,-2.013 Z" fill="#111" stroke="#111" stroke-width="0.25"/>
<path d="M459.730,172.000 L460.791,172.000 L460.791,163.744 L459.818,163.744 L457.867,165.086 L457.867,166.082 L459.730,164.752 Z" fill="#111" stroke="#111" stroke-width="0.25"/>
<path d="M226.774,269.000 L228.144,269.000 L228.144,258.336 L226.888,258.336 L224.368,260.069 L224.368,261.356 L226.774,259.638 Z" fill="#111" stroke="#111" stroke-width="0.25"/>
<path transform="translate(50.5,332.5) rotate(-90)" d="M-60.546,3.000 L-59.812,3.000 L-59.812,-2.710 L-60.485,-2.710 L-61.834,-1.782 L-61.834,-1.093 L-60.546,-2.013 Z" fill="#111" stroke="#111" stroke-width="0.25"/>
<path d="M62.780,416.000 L63.841,416.000 L63.841,407.744 L62.868,407.744 L60.917,409.086 L60.917,410.082 L62.780,408.752 Z" fill="#111" stroke="#111" stroke-width="0.25"/>
<path d="M557.770,269.000 L559.139,269.000 L559.139,258.336 L557.883,258.336 L555.363,260.069 L555.363,261.356 L557.770,259.638 Z" fill="#111" stroke="#111" stroke-width="0.25"/>
<path transform="translate(448.4,332.8) rotate(-90)" d="M-60.546,3.000 L-59.812,3.000 L-59.812,-2.710 L-60.485,-2.710 L-61.834,-1.782 L-61.834,-1.093 L-60.546,-2.013 Z" fill="#111" stroke="#111" stroke-width="0.25"/>
<path d="M460.830,415.000 L461.891,415.000 L461.891,406.744 L460.918,406.744 L458.967,408.086 L458.967,409.082 L460.830,407.752 Z" fill="#111" stroke="#111" stroke-width="0.25"/>
<path d="M228.174,508.000 L229.544,508.000 L229.544,497.336 L228.288,497.336 L225.768,499.069 L225.768,500.356 L228.174,498.638 Z" fill="#111" stroke="#111" stroke-width="0.25"/>
<path transform="translate(52.0,590.2) rotate(-90)" d="M-60.546,3.000 L-59.812,3.000 L-59.812,-2.710 L-60.485,-2.710 L-61.834,-1.782 L-61.834,-1.093 L-60.546,-2.013 Z" fill="#111" stroke="#111" stroke-width="0.25"/>
<path d="M64.680,673.000 L65.741,673.000 L65.741,664.744 L64.768,664.744 L62.817,666.086 L62.817,667.082 L64.680,665.752 Z" fill="#111" stroke="#111" stroke-width="0.25"/>
</svg>
</body></html>
